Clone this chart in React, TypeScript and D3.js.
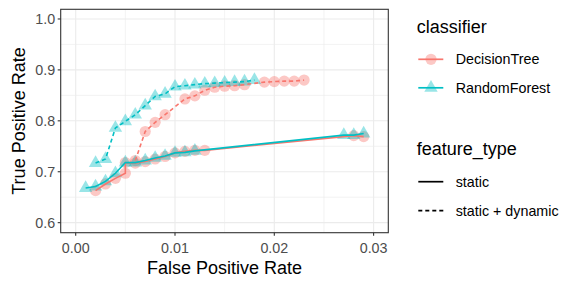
import React from 'react';
import * as d3 from 'd3';

const width = 581;
const height = 287;
const panel = { left: 60.7, right: 388.3, top: 9.3, bottom: 232.7 };
const red = '#F8766D';
const cyan = '#00BFC4';
const font = '"Liberation Sans", Arial, Helvetica, sans-serif';

// false / true positive rates
const dtStaticFpr = [0.002, 0.003, 0.004, 0.005, 0.005, 0.006, 0.007, 0.008, 0.009, 0.010, 0.011, 0.012, 0.013, 0.028, 0.029];
const dtStaticTpr = [0.663, 0.676, 0.687, 0.697, 0.718, 0.717, 0.720, 0.725, 0.730, 0.737, 0.740, 0.742, 0.742, 0.771, 0.769];
const dtDynamicFpr = [0.006, 0.007, 0.008, 0.009, 0.011, 0.012, 0.013, 0.014, 0.015, 0.016, 0.017, 0.019, 0.020, 0.021, 0.022, 0.023];
const dtDynamicTpr = [0.722, 0.779, 0.797, 0.812, 0.843, 0.849, 0.860, 0.866, 0.868, 0.869, 0.871, 0.876, 0.877, 0.878, 0.878, 0.880];
const rfStaticFpr = [0.001, 0.002, 0.003, 0.004, 0.005, 0.006, 0.007, 0.008, 0.009, 0.010, 0.011, 0.012, 0.027, 0.028, 0.029];
const rfStaticTpr = [0.668, 0.671, 0.681, 0.697, 0.718, 0.718, 0.722, 0.727, 0.731, 0.737, 0.738, 0.741, 0.772, 0.772, 0.775];
const rfDynamicFpr = [0.002, 0.003, 0.004, 0.005, 0.006, 0.007, 0.008, 0.009, 0.010, 0.011, 0.012, 0.013, 0.014, 0.015, 0.016, 0.017, 0.018];
const rfDynamicTpr = [0.717, 0.725, 0.786, 0.799, 0.812, 0.830, 0.848, 0.853, 0.867, 0.869, 0.871, 0.873, 0.874, 0.875, 0.876, 0.877, 0.880];

const xTicks = [0, 0.01, 0.02, 0.03];
const xMinor = [0.005, 0.015, 0.025];
const yTicks = [0.6, 0.7, 0.8, 0.9, 1.0];
const yMinor = [0.65, 0.75, 0.85, 0.95];

const classifiers = ['DecisionTree', 'RandomForest'];
const featureTypes = ['static', 'static + dynamic'];

type Pt = [number, number];
const zip = (a: number[], b: number[]): Pt[] => a.map((v, i) => [v, b[i]]);

const series = [
  { cls: 'DecisionTree', ft: 'static', pts: zip(dtStaticFpr, dtStaticTpr) },
  { cls: 'DecisionTree', ft: 'static + dynamic', pts: zip(dtDynamicFpr, dtDynamicTpr) },
  { cls: 'RandomForest', ft: 'static', pts: zip(rfStaticFpr, rfStaticTpr) },
  { cls: 'RandomForest', ft: 'static + dynamic', pts: zip(rfDynamicFpr, rfDynamicTpr) },
];

const color = d3.scaleOrdinal<string, string>().domain(classifiers).range([red, cyan]);
const dash = (ft: string) => (ft === 'static' ? null : '4,3');

const x = d3.scaleLinear().domain([-0.00151, 0.03148]).range([panel.left, panel.right]);
const y = d3.scaleLinear().domain([0.5803, 1.019]).range([panel.bottom, panel.top]);

const line = d3.line<Pt>().x(d => x(d[0])).y(d => y(d[1]));
const triangle = d3.symbol().type(d3.symbolTriangle).size(78)();

const textSize = 14.3;
const titleSize = 18;

function Mark({ cls, cx, cy }: { cls: string; cx: number; cy: number }) {
  if (cls === 'DecisionTree') {
    return <circle cx={cx} cy={cy} r={5.6} fill={red} fillOpacity={0.4} />;
  }
  return <path d={triangle || ''} transform={`translate(${cx},${cy})`} fill={cyan} fillOpacity={0.4} />;
}

export default function App() {
  const lx = 416.7;
  return (
    <svg width={width} height={height} style={{ position: 'absolute', left: 0, top: 0, background: '#fff' }} fontFamily={font}>
      <rect x={panel.left} y={panel.top} width={panel.right - panel.left} height={panel.bottom - panel.top} fill="#fff" />
      {xMinor.map(t => (
        <line key={'xm' + t} x1={x(t)} x2={x(t)} y1={panel.top} y2={panel.bottom} stroke="#EBEBEB" strokeWidth={0.6} />
      ))}
      {yMinor.map(t => (
        <line key={'ym' + t} y1={y(t)} y2={y(t)} x1={panel.left} x2={panel.right} stroke="#EBEBEB" strokeWidth={0.6} />
      ))}
      {xTicks.map(t => (
        <line key={'xg' + t} x1={x(t)} x2={x(t)} y1={panel.top} y2={panel.bottom} stroke="#EBEBEB" strokeWidth={1.1} />
      ))}
      {yTicks.map(t => (
        <line key={'yg' + t} y1={y(t)} y2={y(t)} x1={panel.left} x2={panel.right} stroke="#EBEBEB" strokeWidth={1.1} />
      ))}

      {series.map((s, i) => (
        <g key={'p' + i}>
          {s.pts.map((p, j) => (
            <Mark key={j} cls={s.cls} cx={x(p[0])} cy={y(p[1])} />
          ))}
        </g>
      ))}
      {series.map((s, i) => (
        <path key={'l' + i} d={line(s.pts) || ''} fill="none" stroke={color(s.cls)} strokeWidth={1.6}
          strokeDasharray={dash(s.ft) || undefined} />
      ))}

      <rect x={panel.left} y={panel.top} width={panel.right - panel.left} height={panel.bottom - panel.top}
        fill="none" stroke="#333333" strokeWidth={1.1} />

      {xTicks.map(t => (
        <g key={'xt' + t}>
          <line x1={x(t)} x2={x(t)} y1={panel.bottom} y2={panel.bottom + 3} stroke="#333333" strokeWidth={1.1} />
          <text x={x(t)} y={253.3} textAnchor="middle" fontSize={textSize} fill="#4D4D4D">{d3.format('.2f')(t)}</text>
        </g>
      ))}
      {yTicks.map(t => (
        <g key={'yt' + t}>
          <line x1={panel.left - 3} x2={panel.left} y1={y(t)} y2={y(t)} stroke="#333333" strokeWidth={1.1} />
          <text x={panel.left - 5.5} y={y(t)} dy="0.35em" textAnchor="end" fontSize={textSize} fill="#4D4D4D">{d3.format('.1f')(t)}</text>
        </g>
      ))}

      <text x={(panel.left + panel.right) / 2} y={274} textAnchor="middle" fontSize={titleSize} fill="#000">False Positive Rate</text>
      <text transform={`translate(24.5,${(panel.top + panel.bottom) / 2}) rotate(-90)`} textAnchor="middle" fontSize={titleSize} fill="#000">True Positive Rate</text>

      <text x={lx} y={33.3} fontSize={titleSize} fill="#000">classifier</text>
      {classifiers.map((c, i) => {
        const cy = 59.3 + i * 28.5;
        return (
          <g key={c}>
            <Mark cls={c} cx={431} cy={cy} />
            <line x1={418.3} x2={443.3} y1={cy} y2={cy} stroke={color(c)} strokeWidth={1.7} />
            <text x={455.7} y={cy} dy="0.36em" fontSize={textSize} fill="#000">{c}</text>
          </g>
        );
      })}

      <text x={lx} y={154.5} fontSize={titleSize} fill="#000">feature_type</text>
      {featureTypes.map((f, i) => {
        const cy = 181.7 + i * 29;
        return (
          <g key={f}>
            <line x1={418.3} x2={443.3} y1={cy} y2={cy} stroke="#000" strokeWidth={1.7}
              strokeDasharray={dash(f) || undefined} />
            <text x={455.7} y={cy} dy="0.36em" fontSize={textSize} fill="#000">{f}</text>
          </g>
        );
      })}
    </svg>
  );
}
